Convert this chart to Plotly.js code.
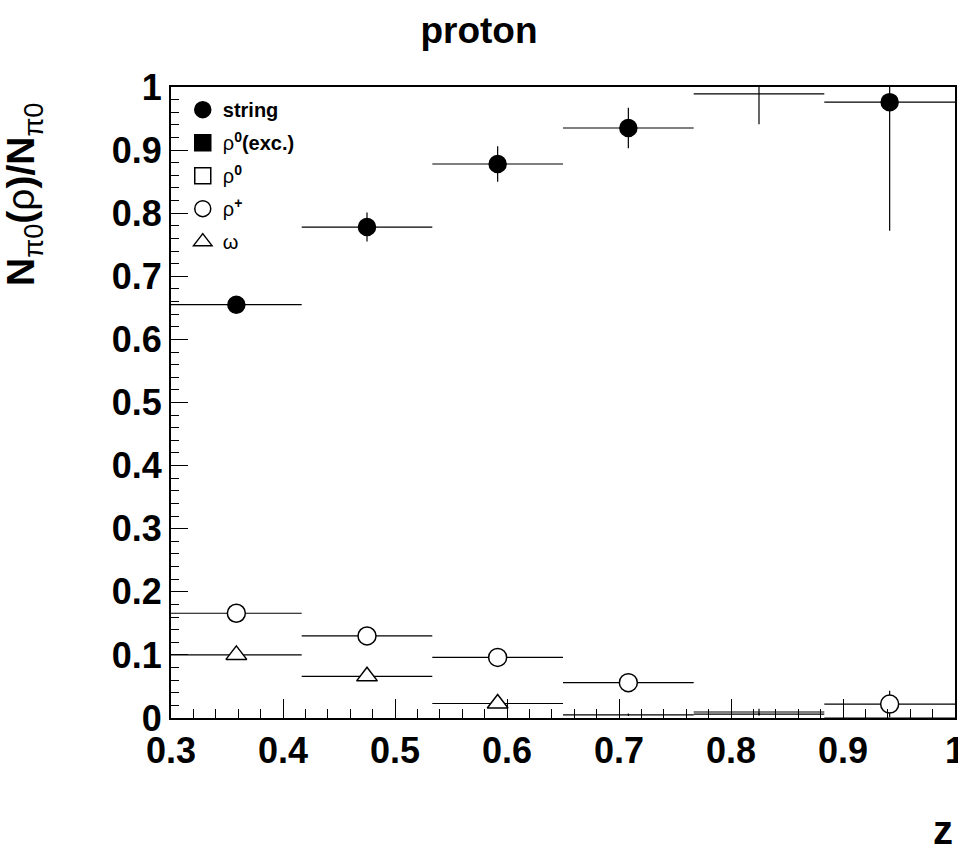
<!DOCTYPE html>
<html>
<head>
<meta charset="utf-8">
<script src="https://cdn.plot.ly/plotly-3.0.1.min.js"></script>
<style>html,body{margin:0;padding:0;background:#fff;}</style>
</head>
<body>
<div id="chart" style="width:958px;height:852px;"></div>
<script>
// ---- data ----
const binEdges = [0.3, 0.4167, 0.5333, 0.65, 0.7667, 0.8833, 1.0];
const stringVals = [0.655, 0.778, 0.878, 0.935, 0.989, 0.976];
const stringErr  = [0.012, 0.023, 0.028, 0.032, 0.048, 0.204];
const rho0ExcVals = [null, null, null, null, null, null];
const rho0Vals    = [null, null, null, null, null, null];
const rhoPlusVals = [0.166, 0.130, 0.096, 0.056, 0.0095, 0.022];
const rhoPlusErr  = [0.004, 0.004, 0.004, 0.004, 0.005, 0.021];
const omegaVals   = [0.100, 0.066, 0.023, 0.005, 0.006, 0.0];
const omegaErr    = [0.003, 0.003, 0.003, 0.002, 0.002, 0.0];
const xTicks = [0.3, 0.4, 0.5, 0.6, 0.7, 0.8, 0.9, 1.0];
const xTickText = ["0.3", "0.4", "0.5", "0.6", "0.7", "0.8", "0.9", "1"];
const yTicks = [0, 0.1, 0.2, 0.3, 0.4, 0.5, 0.6, 0.7, 0.8, 0.9, 1.0];
const yTickText = ["0", "0.1", "0.2", "0.3", "0.4", "0.5", "0.6", "0.7", "0.8", "0.9", "1"];

// ---- derived ----
const centers = binEdges.slice(0, -1).map((e, i) => (e + binEdges[i + 1]) / 2);
const halfW = binEdges.slice(0, -1).map((e, i) => (binEdges[i + 1] - e) / 2);
const plotH = 631, yMin = 0, yMax = 1;
// markers that would cross the frame are not drawn (as in the original)
function markerY(vals, ms) {
  const r = (ms / 2) / plotH * (yMax - yMin);
  return vals.map(v => (v === null || v - yMin < r || yMax - v < r) ? null : v);
}
const FONT = "Liberation Sans, Arial, sans-serif";

function series(name, vals, errs, symbol, fill, ms) {
  const bars = {
    type: 'scatter', mode: 'markers', showlegend: false, hoverinfo: 'skip',
    x: centers, y: vals,
    marker: {size: 1, opacity: 0, color: 'black'},
    error_x: {type: 'data', array: halfW, symmetric: true, color: 'black', thickness: 1.2, width: 0},
    error_y: errs ? {type: 'data', array: errs, symmetric: true, color: 'black', thickness: 1.2, width: 0} : {visible: false},
    cliponaxis: true
  };
  const marks = {
    type: 'scatter', mode: 'markers', name: name, legendgroup: name,
    x: centers, y: markerY(vals, ms),
    marker: {symbol: symbol, size: ms, color: fill, opacity: 1, line: {color: 'black', width: 1.5}},
    cliponaxis: true
  };
  return [bars, marks];
}

const traces = [].concat(
  series('<b>string</b>', stringVals, stringErr, 'circle', 'black', 17),
  series('ρ<sup><b>0</b></sup><b>(exc.)</b>', rho0ExcVals, null, 'square', 'black', 16),
  series('ρ<sup><b>0</b></sup>', rho0Vals, null, 'square', 'white', 16),
  series('ρ<sup><b>+</b></sup>', rhoPlusVals, rhoPlusErr, 'circle', 'white', 18),
  series('ω', omegaVals, omegaErr, 'triangle-up', 'white', 18)
);

const layout = {
  width: 958, height: 852,
  margin: {l: 171, r: 3, t: 87, b: 134},
  paper_bgcolor: 'white', plot_bgcolor: 'white',
  font: {family: FONT, color: 'black'},
  title: {text: '<b>proton</b>', font: {family: FONT, size: 37, color: 'black'},
          x: 0.5, xref: 'container', y: 0.965, yref: 'container', xanchor: 'center', yanchor: 'middle'},
  showlegend: true,
  legend: {x: 0.015, y: 0.995, xanchor: 'left', yanchor: 'top', bgcolor: 'rgba(0,0,0,0)',
           font: {family: FONT, size: 20, color: 'black'},
           tracegroupgap: 4, itemwidth: 30, traceorder: 'grouped'},
  xaxis: {range: [0.3, 1.0], tickvals: xTicks, ticktext: xTickText, ticks: 'inside', ticklen: 19, tickwidth: 1,
          tickcolor: 'black', showline: true, linecolor: 'black', linewidth: 2, mirror: true,
          showgrid: false, zeroline: false, ticklabeloverflow: 'allow',
          tickfont: {family: FONT, size: 36, weight: 'bold'},
          minor: {dtick: 0.02, ticks: 'inside', ticklen: 9, tickcolor: 'black', tickwidth: 1, showgrid: false}},
  yaxis: {range: [0, 1.0], tickvals: yTicks, ticktext: yTickText, ticks: 'inside', ticklen: 17, tickwidth: 1,
          tickcolor: 'black', showline: true, linecolor: 'black', linewidth: 2, mirror: true,
          showgrid: false, zeroline: false,
          tickfont: {family: FONT, size: 36, weight: 'bold'},
          minor: {dtick: 0.02, ticks: 'inside', ticklen: 8, tickcolor: 'black', tickwidth: 1, showgrid: false}},
  annotations: [
    {text: '<b>N</b><sub>π0</sub><b>(</b>ρ<b>)/N</b><sub>π0</sub>', textangle: -90,
     xref: 'paper', yref: 'paper', x: -0.188, y: 0.83, xanchor: 'center', yanchor: 'middle',
     showarrow: false, font: {family: FONT, size: 39, color: 'black'}},
    {text: '<b>z</b>', xref: 'paper', yref: 'paper', x: 0.985, y: -0.178, xanchor: 'center', yanchor: 'middle',
     showarrow: false, font: {family: FONT, size: 40, color: 'black'}}
  ]
};

Plotly.newPlot('chart', traces, layout, {displayModeBar: false, staticPlot: true});
</script>
</body>
</html>
